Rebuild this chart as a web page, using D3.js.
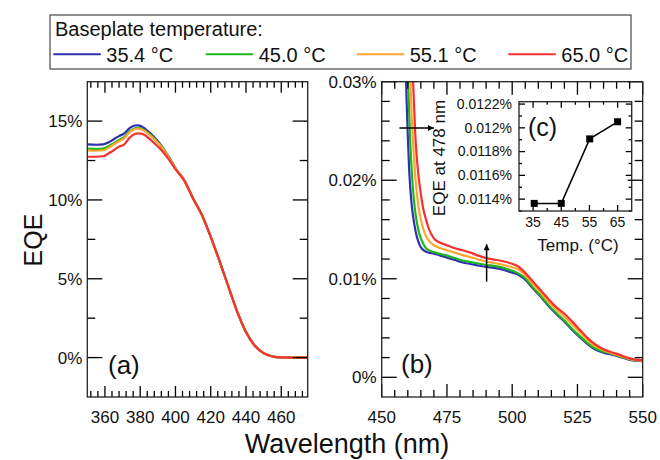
<!DOCTYPE html>
<html><head><meta charset="utf-8">
<script src="https://cdn.jsdelivr.net/npm/d3@7/dist/d3.min.js"></script>
<style>body{margin:0;background:#fff}</style>
</head><body><svg id="c" width="660" height="460"></svg>
<script>
// ---------- data ----------
const seriesNames = ["35.4 °C", "45.0 °C", "55.1 °C", "65.0 °C"];
const seriesColors = ["#2f2fb0", "#1db41d", "#ffa52e", "#f73030"];

// panel (a): wavelength (nm) and EQE (%)
const wlA = [350,355,359,362,365,368,371,374,377,379,382,385,388,391,394,397,400,405,410,415,420,425,430,435,440,445,450,455,460,465,475];
const eqeA_354 = [13.52,13.5,13.52,13.65,13.85,14.05,14.22,14.55,14.72,14.73,14.58,14.3,13.98,13.6,13.1,12.6,12.0,11.25,10.1,9.05,7.66,6.12,4.51,2.92,1.62,0.75,0.28,0.07,0.01,0,0];
const eqeA_450 = [13.25,13.22,13.25,13.4,13.6,13.8,14.0,14.35,14.55,14.58,14.45,14.2,13.9,13.55,13.08,12.58,12.0,11.25,10.1,9.05,7.66,6.12,4.51,2.92,1.62,0.75,0.28,0.07,0.01,0,0];
const eqeA_551 = [13.15,13.12,13.15,13.3,13.52,13.72,13.92,14.3,14.5,14.52,14.4,14.15,13.85,13.5,13.05,12.55,12.0,11.25,10.1,9.05,7.66,6.12,4.51,2.92,1.62,0.75,0.28,0.07,0.01,0,0];
const eqeA_650 = [12.74,12.74,12.77,12.95,13.15,13.38,13.52,13.95,14.18,14.22,14.15,13.9,13.6,13.28,12.9,12.45,11.95,11.22,10.08,9.05,7.66,6.12,4.51,2.92,1.62,0.75,0.28,0.07,0.01,0,0];

// panel (b): wavelength (nm) and EQE (%)
const wlB = [458,459,459.5,460,460.5,461,461.5,462,463,464,465,466,467,468,470,472,475,478,481,484,487,490,493,496,499,502,505,508,511,514,517,520,523,526,529,532,535,538,541,544,547,550];
const eqeB_354 = [0.045,0.034,0.0285,0.0245,0.0212,0.019,0.0175,0.0164,0.0148,0.0138,0.0132,0.0129,0.01275,0.01265,0.01255,0.0124,0.01215,0.0119,0.01165,0.0115,0.01135,0.0112,0.0111,0.01095,0.0107,0.01045,0.0099,0.009,0.00815,0.0072,0.0064,0.00565,0.0048,0.00405,0.00335,0.0028,0.0025,0.0023,0.0021,0.00185,0.0017,0.00165];
const eqeB_450 = [0.055,0.042,0.036,0.031,0.027,0.0235,0.021,0.019,0.0165,0.015,0.0141,0.0135,0.0131,0.0129,0.0127,0.01255,0.01235,0.0121,0.01185,0.0117,0.01155,0.0114,0.0113,0.01115,0.0109,0.0106,0.01005,0.0091,0.00825,0.0073,0.0065,0.00575,0.0049,0.00415,0.00345,0.0029,0.0026,0.0024,0.00215,0.0019,0.00175,0.0017];
const eqeB_551 = [0.068,0.053,0.045,0.039,0.034,0.03,0.0265,0.024,0.02,0.0175,0.016,0.015,0.0143,0.0139,0.0134,0.01315,0.0129,0.01265,0.0124,0.0122,0.01195,0.01175,0.0116,0.01145,0.01125,0.011,0.01035,0.00945,0.00855,0.00765,0.00685,0.00615,0.00535,0.00455,0.00375,0.00315,0.00275,0.00245,0.0022,0.00195,0.00175,0.0017];
const eqeB_650 = [0.08,0.065,0.055,0.048,0.042,0.037,0.033,0.0302,0.024,0.0207,0.0186,0.017,0.016,0.0151,0.0141,0.0137,0.0134,0.0131,0.0129,0.01265,0.01235,0.0121,0.01195,0.0118,0.0116,0.0113,0.0106,0.0097,0.0088,0.0079,0.0071,0.00645,0.00565,0.0048,0.00395,0.0033,0.00285,0.00255,0.0023,0.002,0.0018,0.00175];

// inset (c)
const insetTemps = [35.4, 45.0, 55.1, 65.0];
const insetEqe478 = [0.011364, 0.011364, 0.011907, 0.012051];

// ticks
const aXMajor = [360,380,400,420,440,460];
const aXMinor = [352,356,364,368,372,376,384,388,392,396,404,408,412,416,424,428,432,436,444,448,452,456,464,468,472];
const aXLabels = ["360","380","400","420","440","460"];
const aYMajor = [0,5,10,15];
const aYMinor = [2.5,7.5,12.5];
const aYLabels = ["0%","5%","10%","15%"];
const bXMajor = [450,475,500,525,550];
const bXMinor = [455,460,465,470,480,485,490,495,505,510,515,520,530,535,540,545];
const bXLabels = ["450","475","500","525","550"];
const bYMajor = [0,0.01,0.02,0.03];
const bYMinor = [0.002,0.004,0.006,0.008,0.012,0.014,0.016,0.018,0.022,0.024,0.026,0.028];
const bYLabels = ["0%","0.01%","0.02%","0.03%"];
const cXMajor = [35,45,55,65];
const cXMinor = [40,50,60];
const cXLabels = ["35","45","55","65"];
const cYMajor = [0.0114,0.0116,0.0118,0.012,0.0122];
const cYMinor = [0.0113,0.0115,0.0117,0.0119,0.0121];
const cYLabels = ["0.0114%","0.0116%","0.0118%","0.012%","0.0122%"];

// ---------- drawing ----------
const FONT = "'Liberation Sans', Arial, Helvetica, sans-serif";
const svg = d3.select("#c").style("font-family", FONT);
const INK = "#000";

function panel(opt) {
  const {x, y, xMaj, xMin, xLab, yMaj, yMin, yLab, xMajLen, xMinLen, yMajLen, yMinLen, fs, xLabY, yPad} = opt;
  const xr = x.range(), yr = y.range();
  const L = xr[0], R = xr[1], B = yr[0], T = yr[1];
  const g = svg.append("g");
  const xt = (vals, len) => {
    [[B, -1], [T, 1]].forEach(([base, dir]) => {
      g.append("g").selectAll("line").data(vals).join("line")
        .attr("x1", d => x(d)).attr("x2", d => x(d)).attr("y1", base).attr("y2", base + dir * len)
        .attr("stroke", INK).attr("stroke-width", 1.3);
    });
  };
  const yt = (vals, len) => {
    [[L, 1], [R, -1]].forEach(([base, dir]) => {
      g.append("g").selectAll("line").data(vals).join("line")
        .attr("y1", d => y(d)).attr("y2", d => y(d)).attr("x1", base).attr("x2", base + dir * len)
        .attr("stroke", INK).attr("stroke-width", 1.3);
    });
  };
  xt(xMaj, xMajLen); xt(xMin, xMinLen); yt(yMaj, yMajLen); yt(yMin, yMinLen);
  g.append("g").selectAll("text").data(xMaj).join("text")
    .attr("x", d => x(d)).attr("y", xLabY).attr("text-anchor", "middle")
    .attr("font-size", fs).attr("fill", "#111").text((d, i) => xLab[i]);
  g.append("g").selectAll("text").data(yMaj).join("text")
    .attr("x", L - yPad).attr("y", d => y(d)).attr("dy", "0.35em").attr("text-anchor", "end")
    .attr("font-size", fs).attr("fill", "#111").text((d, i) => yLab[i]);
  g.append("rect").attr("x", L).attr("y", T).attr("width", R - L).attr("height", B - T)
    .attr("fill", "none").attr("stroke", "#222").attr("stroke-width", 1.3);
  return g;
}

// panel (a)
const xA = d3.scaleLinear().domain([350, 475]).range([87.3, 307.7]);
const yA = d3.scaleLinear().domain([-2.5, 17.5]).range([397, 81.7]);
// panel (b)
const xB = d3.scaleLinear().domain([450, 550]).range([381.7, 642.7]);
const yB = d3.scaleLinear().domain([-0.002, 0.03]).range([397, 81.7]);
// inset (c)
const xC = d3.scaleLinear().domain([30, 70]).range([519, 631.7]);
const yC = d3.scaleLinear().domain([0.0113, 0.01222]).range([211, 101.7]);

const seriesA = [eqeA_354, eqeA_450, eqeA_551, eqeA_650];
const seriesB = [eqeB_354, eqeB_450, eqeB_551, eqeB_650];

const defs = svg.append("defs");
defs.append("clipPath").attr("id", "clipA").append("rect")
  .attr("x", 87.3).attr("y", 81.7).attr("width", 307.7 - 87.3).attr("height", 397 - 81.7);
defs.append("clipPath").attr("id", "clipB").append("rect")
  .attr("x", 381.7).attr("y", 81.7).attr("width", 642.7 - 381.7).attr("height", 397 - 81.7);
defs.append("marker").attr("id", "arr").attr("viewBox", "0 0 10 10").attr("refX", 10).attr("refY", 5)
  .attr("markerWidth", 9).attr("markerHeight", 6).attr("markerUnits", "userSpaceOnUse").attr("orient", "auto")
  .append("path").attr("d", "M0,0 L10,5 L0,10 Z").attr("fill", "#000");

// curves (a)
const lineA = d3.line().x((d, i) => xA(wlA[i])).y(d => yA(d)).curve(d3.curveMonotoneX);
const gA = svg.append("g").attr("clip-path", "url(#clipA)");
seriesA.forEach((s, k) => gA.append("path").attr("d", lineA(s)).attr("fill", "none")
  .attr("stroke", seriesColors[k]).attr("stroke-width", 2.2));

// curves (b)
const lineB = d3.line().x((d, i) => xB(wlB[i])).y(d => yB(d)).curve(d3.curveMonotoneX);
const gB = svg.append("g").attr("clip-path", "url(#clipB)");
seriesB.forEach((s, k) => gB.append("path").attr("d", lineB(s)).attr("fill", "none")
  .attr("stroke", seriesColors[k]).attr("stroke-width", 2.2));

panel({x: xA, y: yA, xMaj: aXMajor, xMin: aXMinor, xLab: aXLabels, yMaj: aYMajor, yMin: aYMinor, yLab: aYLabels,
  xMajLen: 11, xMinLen: 6, yMajLen: 15, yMinLen: 8, fs: 17, xLabY: 423, yPad: 5});
panel({x: xB, y: yB, xMaj: bXMajor, xMin: bXMinor, xLab: bXLabels, yMaj: bYMajor, yMin: bYMinor, yLab: bYLabels,
  xMajLen: 13, xMinLen: 7, yMajLen: 15, yMinLen: 8, fs: 17, xLabY: 423, yPad: 5});

// arrows in (b)
svg.append("line").attr("x1", xB(456.8)).attr("x2", xB(470)).attr("y1", yB(0.0253)).attr("y2", yB(0.0253))
  .attr("stroke", "#000").attr("stroke-width", 1.5).attr("marker-end", "url(#arr)");
svg.append("line").attr("x1", xB(490.2)).attr("x2", xB(490.2)).attr("y1", yB(0.0097)).attr("y2", yB(0.0135))
  .attr("stroke", "#000").attr("stroke-width", 1.5).attr("marker-end", "url(#arr)");

// inset
panel({x: xC, y: yC, xMaj: cXMajor, xMin: cXMinor, xLab: cXLabels, yMaj: cYMajor, yMin: cYMinor, yLab: cYLabels,
  xMajLen: 6, xMinLen: 3, yMajLen: 6, yMinLen: 3, fs: 14, xLabY: 227, yPad: 7});
svg.append("path").attr("d", d3.line().x((d, i) => xC(insetTemps[i])).y(d => yC(d))(insetEqe478))
  .attr("fill", "none").attr("stroke", "#000").attr("stroke-width", 1.5);
svg.append("g").selectAll("rect").data(insetEqe478).join("rect")
  .attr("x", (d, i) => xC(insetTemps[i]) - 3.5).attr("y", d => yC(d) - 3.5)
  .attr("width", 7).attr("height", 7).attr("fill", "#000");

// labels
const txt = (t, x, y, fs, anchor, rot) => {
  const e = svg.append("text").attr("x", x).attr("y", y).attr("font-size", fs)
    .attr("text-anchor", anchor || "start").attr("fill", "#111").text(t);
  if (rot) e.attr("transform", `rotate(-90,${x},${y})`);
  return e;
};
txt("(a)", 108, 374, 26);
txt("(b)", 401, 373, 26);
txt("(c)", 528, 136, 25);
txt("EQE at 478 nm", 445, 158, 17, "middle", true);
txt("Temp. (°C)", 578, 251, 17, "middle");
txt("EQE", 42, 240, 25, "middle", true);
txt("Wavelength (nm)", 347, 453, 27, "middle");

// legend
const lg = svg.append("g");
lg.append("rect").attr("x", 50).attr("y", 15).attr("width", 581).attr("height", 54)
  .attr("fill", "#fff").attr("stroke", "#555").attr("stroke-width", 1.3);
lg.append("text").attr("x", 55).attr("y", 36).attr("font-size", 20).attr("fill", "#111").text("Baseplate temperature:");
const legX = [53.3, 205.7, 356.7, 508.3];
seriesNames.forEach((n, k) => {
  lg.append("line").attr("x1", legX[k]).attr("x2", legX[k] + 47.5).attr("y1", 54.3).attr("y2", 54.3)
    .attr("stroke", seriesColors[k]).attr("stroke-width", 2);
  lg.append("text").attr("x", legX[k] + 53).attr("y", 62).attr("font-size", 20).attr("fill", "#111").text(n);
});
</script></body></html>
